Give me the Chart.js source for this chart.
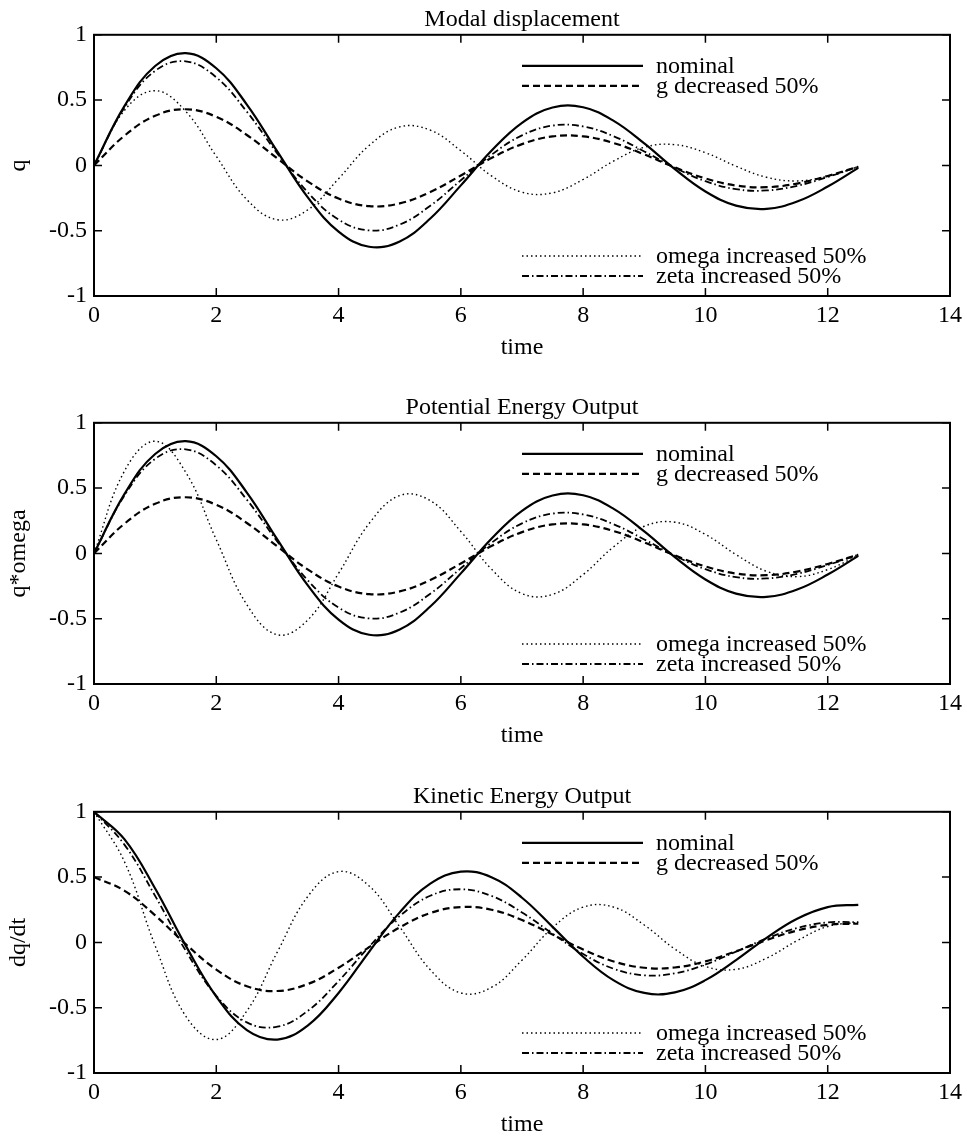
<!DOCTYPE html>
<html>
<head>
<meta charset="utf-8">
<style>
  body { margin: 0; background: #fff; }
  #wrap { position: relative; width: 967px; height: 1143px; }
  canvas { position: absolute; left: 0; }
</style>
</head>
<body>
<div id="wrap">
  <canvas id="modal" width="967" height="366" style="top:0px"></canvas>
  <canvas id="potential" width="967" height="366" style="top:388px"></canvas>
  <canvas id="kinetic" width="967" height="366" style="top:777px"></canvas>
</div>

<script src="https://cdn.jsdelivr.net/npm/chart.js"></script>
<script>
  // time samples
  const time = [0, 0.5, 1, 1.5, 2, 2.5, 3, 3.5, 4, 4.5, 5, 5.5, 6, 6.5, 7, 7.5, 8, 8.5, 9, 9.5, 10, 10.5, 11, 11.5, 12, 12.5];

  const seriesNames = ['nominal', 'g decreased 50%', 'omega increased 50%', 'zeta increased 50%'];

  // Modal displacement (q)
  const dispNominal = [0, 0.456, 0.761, 0.859, 0.744, 0.466, 0.105, -0.247, -0.507, -0.623, -0.582, -0.407, -0.153, 0.112, 0.326, 0.443, 0.445, 0.341, 0.168, -0.029, -0.200, -0.308, -0.333, -0.277, -0.162, -0.019];
  const dispG = [0, 0.228, 0.380, 0.430, 0.372, 0.233, 0.053, -0.124, -0.254, -0.312, -0.291, -0.204, -0.077, 0.056, 0.163, 0.222, 0.222, 0.171, 0.084, -0.015, -0.100, -0.154, -0.167, -0.139, -0.081, -0.010];
  const dispOmega = [0, 0.422, 0.572, 0.414, 0.070, -0.262, -0.416, -0.339, -0.102, 0.153, 0.295, 0.270, 0.112, -0.080, -0.205, -0.210, -0.108, 0.034, 0.139, 0.159, 0.097, -0.006, -0.091, -0.119, -0.083, -0.010];
  const dispZeta = [0, 0.445, 0.724, 0.797, 0.674, 0.411, 0.090, -0.208, -0.415, -0.498, -0.453, -0.309, -0.114, 0.081, 0.230, 0.305, 0.298, 0.223, 0.107, -0.018, -0.121, -0.182, -0.192, -0.156, -0.089, -0.010];

  // Potential energy output (q*omega) - only the omega curve differs
  const potOmega = [0, 0.632, 0.859, 0.621, 0.105, -0.393, -0.623, -0.508, -0.153, 0.229, 0.443, 0.404, 0.168, -0.120, -0.308, -0.314, -0.162, 0.051, 0.208, 0.239, 0.145, -0.009, -0.137, -0.178, -0.124, -0.015];

  // Kinetic energy output (dq/dt)
  const kinNominal = [1.000, 0.789, 0.413, -0.025, -0.415, -0.671, -0.744, -0.635, -0.387, -0.072, 0.230, 0.450, 0.542, 0.499, 0.342, 0.119, -0.110, -0.291, -0.387, -0.383, -0.289, -0.136, 0.035, 0.181, 0.270, 0.288];
  const kinG = [0.500, 0.395, 0.207, -0.013, -0.208, -0.336, -0.372, -0.318, -0.194, -0.036, 0.115, 0.225, 0.271, 0.250, 0.171, 0.060, -0.055, -0.146, -0.194, -0.192, -0.145, -0.068, 0.018, 0.091, 0.135, 0.144];
  const kinOmega = [1.000, 0.616, -0.025, -0.564, -0.744, -0.525, -0.072, 0.354, 0.542, 0.432, 0.119, -0.210, -0.387, -0.345, -0.136, 0.113, 0.270, 0.270, 0.133, -0.051, -0.184, -0.206, -0.121, 0.013, 0.122, 0.154];
  const kinZeta = [1.000, 0.747, 0.356, -0.063, -0.409, -0.612, -0.645, -0.523, -0.296, -0.033, 0.202, 0.357, 0.407, 0.356, 0.229, 0.067, -0.089, -0.202, -0.252, -0.237, -0.169, -0.071, 0.030, 0.110, 0.153, 0.155];

  const xTicks = [0, 2, 4, 6, 8, 10, 12, 14];
  const yTicks = [-1, -0.5, 0, 0.5, 1];

  const lineStyles = [
    { borderWidth: 2.2, borderDash: [] },
    { borderWidth: 2.2, borderDash: [7, 4] },
    { borderWidth: 1.4, borderDash: [1.5, 3] },
    { borderWidth: 1.8, borderDash: [7, 3, 1.5, 3] }
  ];

  Chart.defaults.font.family = '"Liberation Serif", "Times New Roman", serif';
  Chart.defaults.font.size = 24;
  Chart.defaults.color = '#000';

  // box, inward ticks and the two split legend groups
  const framePlugin = {
    id: 'frame',
    afterDatasetsDraw(chart) {
      const { ctx, chartArea: a, scales } = chart;
      ctx.save();
      ctx.strokeStyle = '#000';
      ctx.lineWidth = 2;
      ctx.setLineDash([]);
      ctx.strokeRect(a.left, a.top, a.right - a.left, a.bottom - a.top);
      ctx.lineWidth = 1.5;
      const tl = 8;
      ctx.beginPath();
      xTicks.forEach(v => {
        const x = scales.x.getPixelForValue(v);
        ctx.moveTo(x, a.bottom); ctx.lineTo(x, a.bottom - tl);
        ctx.moveTo(x, a.top); ctx.lineTo(x, a.top + tl);
      });
      yTicks.forEach(v => {
        const y = scales.y.getPixelForValue(v);
        ctx.moveTo(a.left, y); ctx.lineTo(a.left + tl, y);
        ctx.moveTo(a.right, y); ctx.lineTo(a.right - tl, y);
      });
      ctx.stroke();

      // legend
      const rows = [a.top + 31, a.top + 51, a.bottom - 40, a.bottom - 20];
      const x0 = a.left + 428, x1 = a.left + 549, tx = a.left + 562;
      ctx.font = '24px "Liberation Serif", "Times New Roman", serif';
      ctx.fillStyle = '#000';
      ctx.textBaseline = 'alphabetic';
      chart.data.datasets.forEach((ds, i) => {
        const y = rows[i];
        ctx.beginPath();
        ctx.lineWidth = ds.borderWidth;
        ctx.setLineDash(ds.borderDash || []);
        ctx.moveTo(x0, y); ctx.lineTo(x1, y);
        ctx.stroke();
        ctx.setLineDash([]);
        ctx.fillText(ds.label, tx, y + 7);
      });
      ctx.restore();
    }
  };

  function makePlot(id, title, yTitle, series) {
    new Chart(document.getElementById(id), {
      type: 'line',
      data: {
        datasets: series.map((arr, i) => ({
          label: seriesNames[i],
          data: time.map((t, k) => ({ x: t, y: arr[k] })),
          borderColor: '#000',
          borderWidth: lineStyles[i].borderWidth,
          borderDash: lineStyles[i].borderDash,
          pointRadius: 0,
          tension: 0.4,
          fill: false
        }))
      },
      options: {
        responsive: false,
        animation: false,
        devicePixelRatio: 1,
        layout: { padding: { top: 0, right: 17, left: 0, bottom: 0 } },
        plugins: {
          legend: { display: false },
          tooltip: { enabled: false },
          title: {
            display: true,
            text: title,
            fullSize: false,
            color: '#000',
            font: { size: 24, weight: 'normal' },
            padding: { top: 5, bottom: 1 }
          }
        },
        scales: {
          x: {
            type: 'linear',
            min: 0, max: 14,
            grid: { display: false, drawTicks: false },
            border: { display: false },
            ticks: { stepSize: 2, padding: 5, maxRotation: 0 },
            title: { display: true, text: 'time', padding: { top: 4, bottom: 4 } },
            afterFit: s => { s.height = 70; }
          },
          y: {
            min: -1, max: 1,
            grid: { display: false, drawTicks: false },
            border: { display: false },
            ticks: { stepSize: 0.5, padding: 7, callback: v => String(v) },
            title: { display: true, text: yTitle, padding: { top: 4, bottom: 4 } },
            afterFit: s => { s.width = 94; }
          }
        }
      },
      plugins: [framePlugin]
    });
  }

  makePlot('modal', 'Modal displacement', 'q', [dispNominal, dispG, dispOmega, dispZeta]);
  makePlot('potential', 'Potential Energy Output', 'q*omega', [dispNominal, dispG, potOmega, dispZeta]);
  makePlot('kinetic', 'Kinetic Energy Output', 'dq/dt', [kinNominal, kinG, kinOmega, kinZeta]);
</script>
</body>
</html>
